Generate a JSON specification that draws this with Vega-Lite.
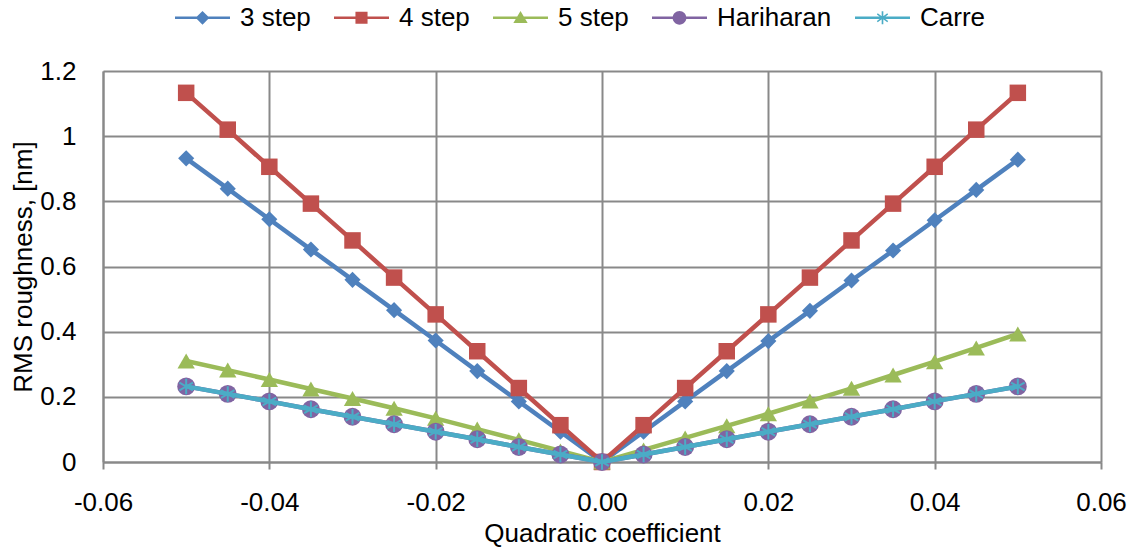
{
  "$schema": "https://vega.github.io/schema/vega-lite/v6.json",
  "width": 998,
  "height": 391,
  "autosize": "none",
  "padding": {"left": 103, "top": 71, "right": 34, "bottom": 88},
  "background": "white",
  "config": {
    "view": {"stroke": null},
    "font": "Liberation Sans",
    "axis": {
      "labelFont": "Liberation Sans",
      "titleFont": "Liberation Sans",
      "labelFontSize": 26,
      "titleFontSize": 26,
      "titleFontWeight": "normal",
      "labelColor": "#000000",
      "titleColor": "#000000",
      "gridColor": "#898989",
      "gridWidth": 2,
      "gridOpacity": 1,
      "domainColor": "#898989",
      "domainWidth": 2,
      "tickColor": "#898989",
      "tickWidth": 2
    },
    "legend": {
      "labelFont": "Liberation Sans",
      "labelFontSize": 26,
      "labelColor": "#000000"
    }
  },
  "data": {
    "values": [
      {"x": -0.05, "series": "3 step", "y": 0.932},
      {"x": -0.045, "series": "3 step", "y": 0.839},
      {"x": -0.04, "series": "3 step", "y": 0.745},
      {"x": -0.035, "series": "3 step", "y": 0.652},
      {"x": -0.03, "series": "3 step", "y": 0.559},
      {"x": -0.025, "series": "3 step", "y": 0.466},
      {"x": -0.02, "series": "3 step", "y": 0.373},
      {"x": -0.015, "series": "3 step", "y": 0.279},
      {"x": -0.01, "series": "3 step", "y": 0.186},
      {"x": -0.005, "series": "3 step", "y": 0.093},
      {"x": 0, "series": "3 step", "y": 0},
      {"x": 0.005, "series": "3 step", "y": 0.093},
      {"x": 0.01, "series": "3 step", "y": 0.186},
      {"x": 0.015, "series": "3 step", "y": 0.279},
      {"x": 0.02, "series": "3 step", "y": 0.371},
      {"x": 0.025, "series": "3 step", "y": 0.464},
      {"x": 0.03, "series": "3 step", "y": 0.557},
      {"x": 0.035, "series": "3 step", "y": 0.649},
      {"x": 0.04, "series": "3 step", "y": 0.742},
      {"x": 0.045, "series": "3 step", "y": 0.835},
      {"x": 0.05, "series": "3 step", "y": 0.928},

      {"x": -0.05, "series": "4 step", "y": 1.133},
      {"x": -0.045, "series": "4 step", "y": 1.02},
      {"x": -0.04, "series": "4 step", "y": 0.906},
      {"x": -0.035, "series": "4 step", "y": 0.793},
      {"x": -0.03, "series": "4 step", "y": 0.68},
      {"x": -0.025, "series": "4 step", "y": 0.566},
      {"x": -0.02, "series": "4 step", "y": 0.453},
      {"x": -0.015, "series": "4 step", "y": 0.34},
      {"x": -0.01, "series": "4 step", "y": 0.227},
      {"x": -0.005, "series": "4 step", "y": 0.113},
      {"x": 0, "series": "4 step", "y": 0},
      {"x": 0.005, "series": "4 step", "y": 0.113},
      {"x": 0.01, "series": "4 step", "y": 0.227},
      {"x": 0.015, "series": "4 step", "y": 0.34},
      {"x": 0.02, "series": "4 step", "y": 0.453},
      {"x": 0.025, "series": "4 step", "y": 0.566},
      {"x": 0.03, "series": "4 step", "y": 0.68},
      {"x": 0.035, "series": "4 step", "y": 0.793},
      {"x": 0.04, "series": "4 step", "y": 0.906},
      {"x": 0.045, "series": "4 step", "y": 1.02},
      {"x": 0.05, "series": "4 step", "y": 1.133},

      {"x": -0.05, "series": "5 step", "y": 0.31},
      {"x": -0.045, "series": "5 step", "y": 0.282},
      {"x": -0.04, "series": "5 step", "y": 0.253},
      {"x": -0.035, "series": "5 step", "y": 0.224},
      {"x": -0.03, "series": "5 step", "y": 0.195},
      {"x": -0.025, "series": "5 step", "y": 0.165},
      {"x": -0.02, "series": "5 step", "y": 0.134},
      {"x": -0.015, "series": "5 step", "y": 0.101},
      {"x": -0.01, "series": "5 step", "y": 0.068},
      {"x": -0.005, "series": "5 step", "y": 0.034},
      {"x": 0, "series": "5 step", "y": 0},
      {"x": 0.005, "series": "5 step", "y": 0.037},
      {"x": 0.01, "series": "5 step", "y": 0.074},
      {"x": 0.015, "series": "5 step", "y": 0.111},
      {"x": 0.02, "series": "5 step", "y": 0.148},
      {"x": 0.025, "series": "5 step", "y": 0.187},
      {"x": 0.03, "series": "5 step", "y": 0.226},
      {"x": 0.035, "series": "5 step", "y": 0.267},
      {"x": 0.04, "series": "5 step", "y": 0.308},
      {"x": 0.045, "series": "5 step", "y": 0.35},
      {"x": 0.05, "series": "5 step", "y": 0.393},

      {"x": -0.05, "series": "Hariharan", "y": 0.232},
      {"x": -0.045, "series": "Hariharan", "y": 0.209},
      {"x": -0.04, "series": "Hariharan", "y": 0.186},
      {"x": -0.035, "series": "Hariharan", "y": 0.162},
      {"x": -0.03, "series": "Hariharan", "y": 0.139},
      {"x": -0.025, "series": "Hariharan", "y": 0.116},
      {"x": -0.02, "series": "Hariharan", "y": 0.093},
      {"x": -0.015, "series": "Hariharan", "y": 0.07},
      {"x": -0.01, "series": "Hariharan", "y": 0.046},
      {"x": -0.005, "series": "Hariharan", "y": 0.023},
      {"x": 0, "series": "Hariharan", "y": 0},
      {"x": 0.005, "series": "Hariharan", "y": 0.023},
      {"x": 0.01, "series": "Hariharan", "y": 0.046},
      {"x": 0.015, "series": "Hariharan", "y": 0.07},
      {"x": 0.02, "series": "Hariharan", "y": 0.093},
      {"x": 0.025, "series": "Hariharan", "y": 0.116},
      {"x": 0.03, "series": "Hariharan", "y": 0.139},
      {"x": 0.035, "series": "Hariharan", "y": 0.162},
      {"x": 0.04, "series": "Hariharan", "y": 0.186},
      {"x": 0.045, "series": "Hariharan", "y": 0.209},
      {"x": 0.05, "series": "Hariharan", "y": 0.232},

      {"x": -0.05, "series": "Carre", "y": 0.232},
      {"x": -0.045, "series": "Carre", "y": 0.209},
      {"x": -0.04, "series": "Carre", "y": 0.186},
      {"x": -0.035, "series": "Carre", "y": 0.162},
      {"x": -0.03, "series": "Carre", "y": 0.139},
      {"x": -0.025, "series": "Carre", "y": 0.116},
      {"x": -0.02, "series": "Carre", "y": 0.093},
      {"x": -0.015, "series": "Carre", "y": 0.07},
      {"x": -0.01, "series": "Carre", "y": 0.046},
      {"x": -0.005, "series": "Carre", "y": 0.023},
      {"x": 0, "series": "Carre", "y": 0},
      {"x": 0.005, "series": "Carre", "y": 0.023},
      {"x": 0.01, "series": "Carre", "y": 0.046},
      {"x": 0.015, "series": "Carre", "y": 0.07},
      {"x": 0.02, "series": "Carre", "y": 0.093},
      {"x": 0.025, "series": "Carre", "y": 0.116},
      {"x": 0.03, "series": "Carre", "y": 0.139},
      {"x": 0.035, "series": "Carre", "y": 0.162},
      {"x": 0.04, "series": "Carre", "y": 0.186},
      {"x": 0.045, "series": "Carre", "y": 0.209},
      {"x": 0.05, "series": "Carre", "y": 0.232}
    ]
  },
  "encoding": {
    "x": {
      "field": "x",
      "type": "quantitative",
      "scale": {"domain": [-0.06, 0.06], "nice": false, "zero": false},
      "axis": {
        "title": "Quadratic coefficient",
        "values": [-0.06, -0.04, -0.02, 0, 0.02, 0.04, 0.06],
        "labelExpr": "datum.value < 0 ? '-' + format(-datum.value, '.2f') : format(datum.value, '.2f')",
        "tickSize": 7,
        "labelPadding": 20,
        "titlePadding": 5,
        "labelFlush": false,
        "labelOverlap": false
      }
    },
    "y": {
      "field": "y",
      "type": "quantitative",
      "scale": {"domain": [0, 1.2], "nice": false},
      "axis": {
        "title": "RMS roughness, [nm]",
        "values": [0, 0.2, 0.4, 0.6, 0.8, 1, 1.2],
        "format": "~g",
        "ticks": false,
        "labelPadding": 27,
        "titlePadding": 3,
        "labelFlush": false,
        "labelOverlap": false
      }
    }
  },
  "layer": [
    {
      "mark": {"type": "point", "filled": true, "opacity": 0},
      "encoding": {
        "color": {
          "field": "series",
          "type": "nominal",
          "scale": {
            "domain": ["3 step", "4 step", "5 step", "Hariharan", "Carre"],
            "range": ["#4F81BD", "#C0504D", "#9BBB59", "#8064A2", "#4BACC6"]
          },
          "legend": {
            "title": null,
            "orient": "none",
            "direction": "horizontal",
            "legendX": 72,
            "legendY": -81,
            "padding": 0,
            "columnPadding": 23,
            "labelOffset": 10,
            "symbolSize": 3025,
            "symbolStrokeWidth": 0,
            "symbolOpacity": 1,
            "labelLimit": 300
          }
        },
        "shape": {
          "field": "series",
          "type": "nominal",
          "scale": {
            "domain": ["3 step", "4 step", "5 step", "Hariharan", "Carre"],
            "range": [
              "M-1,-0.045H1V0.045H-1ZM0,-0.25L0.25,0L0,0.25L-0.25,0Z",
              "M-1,-0.045H1V0.045H-1ZM-0.22,-0.22H0.22V0.22H-0.22Z",
              "M-1,-0.045H1V0.045H-1ZM0,-0.25L0.26,0.19L-0.26,0.19Z",
              "M-1,-0.045H1V0.045H-1ZM0.25,0A0.25,0.25 0 1,1 -0.25,0A0.25,0.25 0 1,1 0.25,0Z",
              "M-1,-0.045H1V0.045H-1ZM-0.03,-0.24H0.03V0.24H-0.03ZM-0.175,-0.16L0.205,0.12L0.175,0.16L-0.205,-0.12ZM-0.205,0.12L0.175,-0.16L0.205,-0.12L-0.175,0.16Z"
            ]
          },
          "legend": {
            "title": null,
            "orient": "none",
            "direction": "horizontal",
            "legendX": 72,
            "legendY": -81,
            "padding": 0,
            "columnPadding": 23,
            "labelOffset": 10,
            "symbolSize": 3025,
            "symbolStrokeWidth": 0,
            "symbolOpacity": 1,
            "labelLimit": 300
          }
        }
      }
    },
    {
      "transform": [{"filter": "datum.series === '3 step'"}],
      "mark": {"type": "line", "strokeWidth": 4.5, "color": "#4F81BD"},
      "encoding": {}
    },
    {
      "transform": [{"filter": "datum.series === '3 step'"}],
      "mark": {"type": "point", "filled": true, "opacity": 1, "shape": "diamond", "size": 260, "color": "#4F81BD"}
    },
    {
      "transform": [{"filter": "datum.series === '4 step'"}],
      "mark": {"type": "line", "strokeWidth": 4.5, "color": "#C0504D"},
      "encoding": {}
    },
    {
      "transform": [{"filter": "datum.series === '4 step'"}],
      "mark": {"type": "point", "filled": true, "opacity": 1, "shape": "square", "size": 272, "color": "#C0504D"}
    },
    {
      "transform": [{"filter": "datum.series === '5 step'"}],
      "mark": {"type": "line", "strokeWidth": 4.5, "color": "#9BBB59"},
      "encoding": {}
    },
    {
      "transform": [{"filter": "datum.series === '5 step'"}],
      "mark": {"type": "point", "filled": true, "opacity": 1, "shape": "triangle-up", "size": 300, "color": "#9BBB59"}
    },
    {
      "transform": [{"filter": "datum.series === 'Hariharan'"}],
      "mark": {"type": "line", "strokeWidth": 4.5, "color": "#8064A2"},
      "encoding": {}
    },
    {
      "transform": [{"filter": "datum.series === 'Hariharan'"}],
      "mark": {"type": "point", "filled": true, "opacity": 1, "shape": "circle", "size": 320, "color": "#8064A2"}
    },
    {
      "transform": [{"filter": "datum.series === 'Carre'"}],
      "mark": {"type": "line", "strokeWidth": 4.5, "color": "#4BACC6"},
      "encoding": {}
    },
    {
      "transform": [{"filter": "datum.series === 'Carre'"}],
      "mark": {"type": "point", "filled": false, "opacity": 1, "strokeWidth": 2, "shape": "M0,-1V1M-0.87,-0.5L0.87,0.5M-0.87,0.5L0.87,-0.5", "size": 240, "color": "#4BACC6"}
    }
  ]
}
